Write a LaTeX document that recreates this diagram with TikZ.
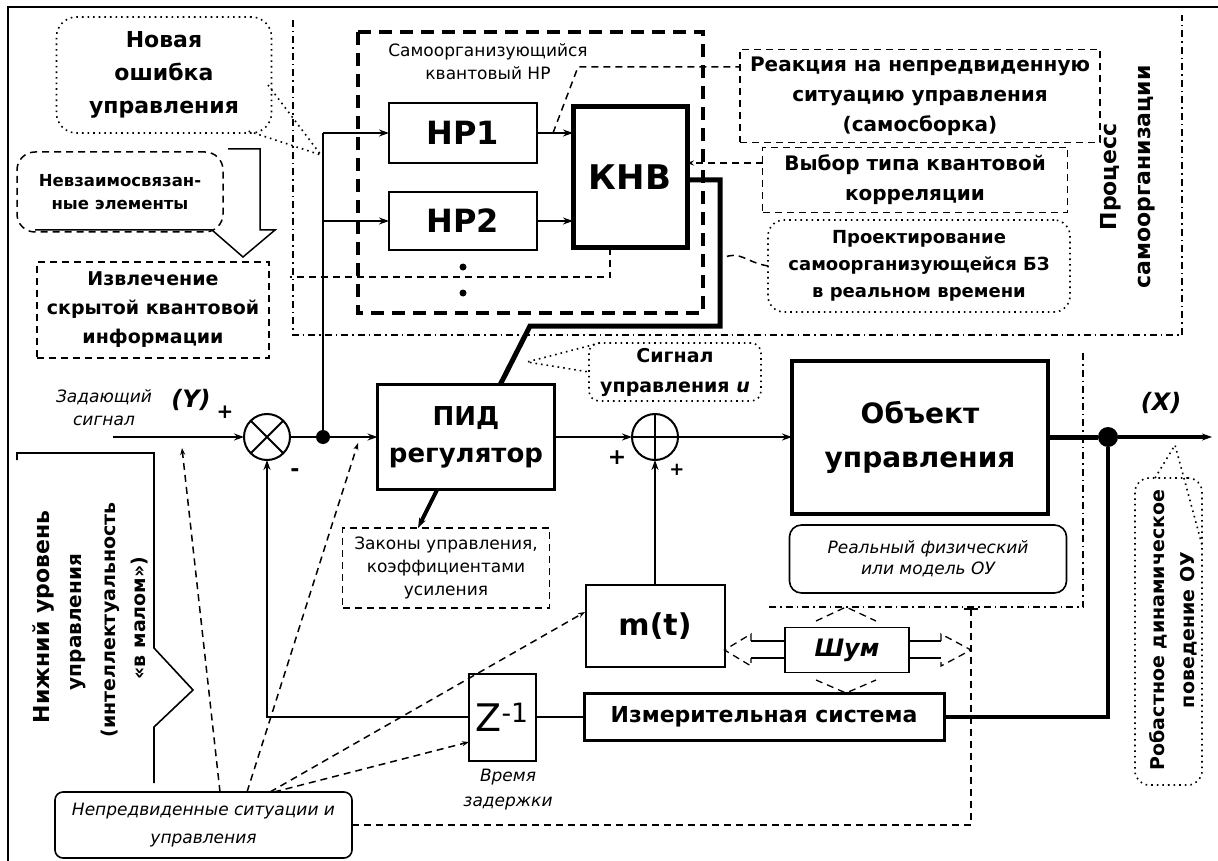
\documentclass[tikz,border=0pt]{standalone}
\usepackage{fontspec}
\setmainfont{DejaVu Sans}
\usetikzlibrary{arrows.meta,calc}
\newcommand{\setfs}[2]{\fontsize{#1}{#2}\selectfont}
\begin{document}
\begin{tikzpicture}[x=1pt,y=-1pt,
  every node/.style={inner sep=0pt,outer sep=0pt},
  sig/.style={line width=2.5pt},
  thk/.style={line width=5pt},
  arr/.style={-{Stealth[length=10pt,width=7pt]}},
  sarr/.style={-{Stealth[length=7pt,width=5pt]}},
  dsh/.style={line width=1.5pt,dash pattern=on 7pt off 5pt},
  tdsh/.style={line width=3.5pt,dash pattern=on 13pt off 8pt},
  dotl/.style={line width=1.6pt,dash pattern=on 1.6pt off 4pt},
  ddot/.style={line width=1.5pt,dash pattern=on 7pt off 4pt on 1.5pt off 4pt},
]
\useasboundingbox (0,0) rectangle (1218,861);
\draw[line width=2.5pt] (8,861) -- (8,7) -- (1218,7);

% self-organisation region
\draw[ddot] (293,20) -- (293,335) -- (1182,335) -- (1182,15);
\node[rotate=90,align=center,font=\setfs{22}{34}\bfseries] (proc) at (1128,177) {Процесс\\самоорганизации};

% left top callouts
\node[draw,dotl,rounded corners=20pt,minimum width=215pt,minimum height=116pt,align=center,font=\setfs{22}{33}\bfseries] (newerr) at (164,75) {Новая\\ошибка\\управления};
\coordinate (c7) at (321,155);
\draw[dotl] (268,85) -- (c7) -- (248,131);
\node[draw,dsh,rounded corners=18pt,minimum width=206pt,minimum height=80pt,align=center,font=\setfs{16.5}{23}\bfseries] (indep) at (120,192) {Невзаимосвязан-\\ные элементы};
\draw[line width=1.5pt] (228,149) -- (260,149) -- (260,230) -- (275,230) -- (243,257) -- (212,230) -- (35,230);
\node[draw,dsh,minimum width=232pt,minimum height=96pt,align=center,font=\setfs{19}{29}\bfseries] (extr) at (153,310) {Извлечение\\скрытой квантовой\\информации};

% self-organising quantum NR
\draw[tdsh] (358,32) rectangle (703,313);
\node[align=center,font=\setfs{17}{23}] (nrlbl) at (488,62) {Самоорганизующийся\\квантовый НР};
\node[draw,line width=2pt,fill=white,minimum width=148pt,minimum height=60pt,font=\setfs{32}{36}\bfseries] (nr1) at (463,133) {НР1};
\node[draw,line width=2pt,fill=white,minimum width=148pt,minimum height=58pt,font=\setfs{32}{36}\bfseries] (nr2) at (463,221) {НР2};
\node[draw,line width=5pt,fill=white,minimum width=114pt,minimum height=141pt,font=\setfs{34}{36}\bfseries] (knv) at (630,177) {КНВ};

% right top boxes
\node[draw,dsh,minimum width=360pt,minimum height=93pt,align=center,font=\setfs{20}{30}\bfseries] (react) at (920,96) {Реакция на непредвиденную\\ситуацию управления\\(самосборка)};
\node[draw,dsh,minimum width=305pt,minimum height=65pt,align=center,font=\setfs{20}{30}\bfseries] (choice) at (915,180) {Выбор типа квантовой\\корреляции};
\node[draw,dotl,rounded corners=16pt,minimum width=302pt,minimum height=92pt,align=center,font=\setfs{18}{27}\bfseries] (design) at (919,266) {Проектирование\\самоорганизующейся БЗ\\в реальном времени};

% dashed links in top part
\coordinate (c1) at (553,133);
\coordinate (c2) at (578,67);
\draw[dsh] (c1) -- (c2) -- (react.west |- c2);
\coordinate (c3) at (763,163);
\draw[dsh,sarr] (c3) -- (knv.east |- c3);
\coordinate (c4) at (610,277);
\coordinate (c5) at (290,277);
\draw[dsh] (knv.south -| c4) -- (c4) -- (c5);
\fill (463,267) circle (3.5);
\fill (463,293) circle (3.5);
\coordinate (c6) at (723,258);
\draw[dsh] (design.west) .. controls (745,262) and (740,250) .. (c6);

% main loop
\node[circle,draw,line width=2pt,minimum size=46pt] (s1) at (267,437) {};
\draw[line width=2pt] (s1.north west) -- (s1.south east) (s1.north east) -- (s1.south west);
\node[circle,fill,minimum size=14pt] (j1) at (323,437) {};
\node[draw,line width=3pt,minimum width=177pt,minimum height=105pt,align=center,font=\setfs{26}{37}\bfseries] (pid) at (466,437) {ПИД\\регулятор};
\node[circle,draw,line width=2pt,minimum size=46pt] (s2) at (655,437) {};
\draw[line width=2pt] (s2.north) -- (s2.south) (s2.west) -- (s2.east);
\node[draw,line width=4pt,minimum width=256pt,minimum height=153pt,align=center,font=\setfs{28}{44}\bfseries] (obj) at (920,437) {Объект\\управления};
\node[circle,fill,minimum size=20pt] (j2) at (1108,437) {};
\coordinate (in) at (113,437);
\coordinate (outp) at (1212,437);
\draw[sig,arr] (in) -- (s1.west);
\draw[sig] (s1.east) -- (j1);
\draw[sig,arr] (j1) -- (pid.west);
\coordinate (b1) at (323,133);
\coordinate (b2) at (323,221);
\draw[sig] (j1) -- (b1);
\draw[sig,arr] (b1) -- (nr1.west);
\draw[sig,arr] (b2) -- (nr2.west);
\draw[sig,arr] (nr1.east) -- (nr1.east -| knv.west);
\draw[sig,arr] (nr2.east) -- (nr2.east -| knv.west);
\coordinate (k1) at (720,180);
\coordinate (k2) at (720,326);
\coordinate (k3) at (530,326);
\coordinate (k4) at (500,385);
\draw[thk] (knv.east |- k1) -- (k1) -- (k2) -- (k3) -- (k4);
\draw[sig,arr] (pid.east) -- (s2.west);
\draw[sig,arr] (s2.east) -- (obj.west);
\draw[thk] (obj.east) -- (j2);
\draw[line width=3.5pt,arr] (j2) -- (outp);

% labels on main line
\node[align=center,font=\setfs{17}{23}\itshape] (zad) at (104,408) {Задающий\\сигнал};
\node[font=\setfs{24}{26}\bfseries\itshape] (ylbl) at (191,400) {(Y)};
\node[font=\setfs{20}{20}\bfseries] (p1) at (225,412) {+};
\node[font=\setfs{22}{20}\bfseries] (m1) at (295,473) {-};
\node[font=\setfs{22}{22}\bfseries] (p2) at (617,458) {+};
\node[font=\setfs{18}{18}\bfseries] (p3) at (677,470) {+};
\node[font=\setfs{24}{26}\bfseries\itshape] (xlbl) at (1161,403) {(X)};

% control signal callout
\node[draw,dotl,rounded corners=10pt,minimum width=172pt,minimum height=58pt,align=center,font=\setfs{19}{30}\bfseries] (sigu) at (675,372) {Сигнал\\управления \textit{u}};
\coordinate (sigt) at (527,362);
\draw[dotl] (600,343) -- (sigt) -- (589,372);

% laws box
\node[draw,dsh,minimum width=207pt,minimum height=80pt,align=center,font=\setfs{17}{23}] (laws) at (446,568) {Законы управления,\\коэффициентами\\усиления};
\coordinate (l1) at (437,490);
\coordinate (l2) at (418,528);
\draw[line width=4pt,arr] (l1) -- (l2);

% real object box
\node[draw,line width=1.6pt,rounded corners=12pt,minimum width=277pt,minimum height=68pt,align=center,font=\setfs{17}{21}\itshape] (real) at (928,559) {Реальный физический\\или модель ОУ};
\draw[ddot] (1083,353) -- (1083,607) -- (769,607);

% m(t), noise, measurement, delay
\node[draw,line width=2pt,minimum width=139pt,minimum height=82pt,font=\setfs{30}{32}\bfseries] (mt) at (655,626) {m(t)};
\draw[sig,arr] (mt.north) -- (s2.south);
\node[draw,line width=1.6pt,minimum width=124pt,minimum height=45pt,font=\setfs{24}{26}\bfseries\itshape] (shum) at (847,650) {Шум};
\draw[line width=1.6pt] (785,641) -- (751,641) (785,658) -- (751,658);
\draw[line width=1.6pt] (909,641) -- (941,641) (909,658) -- (941,658);
\draw[dsh,line width=1.3pt] (751,641) -- (751,634) -- (mt.east |- 0,650) -- (751,666) -- (751,658);
\draw[dsh,line width=1.3pt] (941,641) -- (941,634) -- (971,650) -- (941,666) -- (941,658);
\draw[dsh,line width=1.3pt] (816,621) -- (846,607) -- (876,621);
\draw[dsh,line width=1.3pt] (816,680) -- (846,693) -- (876,680);
\node[draw,line width=3pt,minimum width=360pt,minimum height=47pt,font=\setfs{22}{24}\bfseries] (meas) at (764,717) {Измерительная система};
\node[draw,line width=2pt,minimum width=67pt,minimum height=87pt,font=\setfs{38}{40}] (zb) at (502,717) {Z\textsuperscript{-1}};
\node[align=center,font=\setfs{17}{25}\itshape] (delay) at (508,790) {Время\\задержки};
\coordinate (fb1) at (1108,717);
\coordinate (fb2) at (267,717);
\draw[line width=4pt] (j2) -- (fb1) -- (meas.east);
\draw[sig] (meas.west) -- (zb.east);
\draw[sig,arr] (zb.west) -- (fb2) -- (s1.south);

% unforeseen situations
\node[draw,line width=1.6pt,rounded corners=8pt,minimum width=297pt,minimum height=66pt,align=center,font=\setfs{17}{28}\itshape] (unf) at (203.5,825) {Непредвиденные ситуации и\\управления};
\coordinate (u1) at (220,792);
\coordinate (u2) at (247,792);
\coordinate (u3) at (270,792);
\coordinate (u4) at (274,792);
\coordinate (t1) at (182,448);
\coordinate (t2) at (358,443);
\coordinate (t3) at (585,612);
\coordinate (t4) at (469,742);
\draw[dsh,sarr] (u1) -- (t1);
\draw[dsh,sarr] (u2) -- (t2);
\draw[dsh,sarr] (u3) -- (t3);
\draw[dsh,sarr] (u4) -- (t4);
\coordinate (d1) at (971,825);
\coordinate (d2) at (971,609);
\draw[dsh] (unf.east) -- (d1) -- (d2);
\draw[line width=1.5pt] (964,609) -- (978,609);

% robust behaviour
\node[draw,dotl,rounded corners=14pt,minimum width=67pt,minimum height=307pt] (rob) at (1168.5,631.5) {};
\node[rotate=90,align=center,font=\setfs{19}{30}\bfseries] (robt) at (1173,630) {Робастное динамическое\\поведение ОУ};
\coordinate (c8) at (1175,445);
\draw[dotl] (1155,478) -- (c8) -- (1202,545);

% lower level
\node[rotate=90,font=\setfs{22}{24}\bfseries] (low1) at (43,617) {Нижний уровень};
\node[rotate=90,font=\setfs{20}{24}\bfseries] (low2) at (78,622) {управления};
\node[rotate=90,font=\setfs{19}{24}\bfseries] (low3) at (110,620) {(интеллектуальность};
\node[rotate=90,font=\setfs{19}{24}\bfseries] (low4) at (140,618) {«в малом»)};
\draw[line width=1.6pt] (17,460) -- (17,453) -- (154,453) -- (154,648) -- (193,690) -- (154,727) -- (154,783);
\end{tikzpicture}
\end{document}
